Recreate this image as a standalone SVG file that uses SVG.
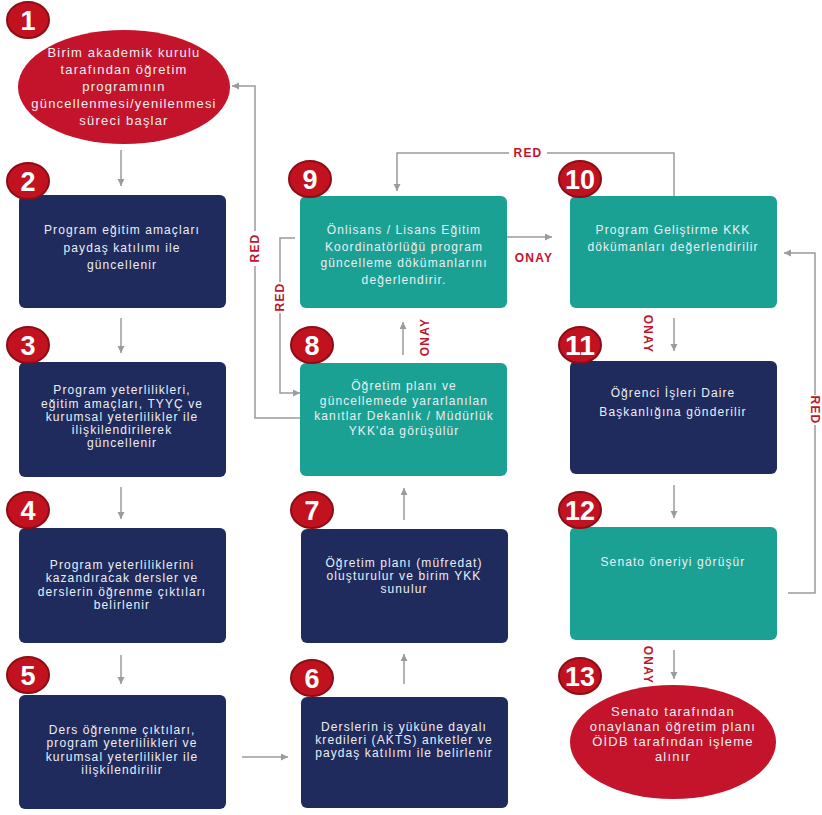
<svg xmlns="http://www.w3.org/2000/svg" width="822" height="815" viewBox="0 0 822 815">
<style>
.bg{fill:#ffffff}
.red{fill:#c3142b}
.navy{fill:#1f2b5c}
.teal{fill:#1aa193}
.t{font-family:"Liberation Sans","DejaVu Sans",sans-serif;font-size:12px;letter-spacing:1.1px;fill:#eceef4;text-anchor:middle}
.t1{font-size:13px;letter-spacing:1.2px}
.badge{fill:#c3121f;stroke:#8c0d15;stroke-width:2}
.bn{font-family:"Liberation Sans","DejaVu Sans",sans-serif;font-size:27px;font-weight:bold;fill:#ffffff;text-anchor:middle}
.conn{fill:none;stroke:#9b9b9b;stroke-width:1.5}
.lbl{font-family:"Liberation Sans","DejaVu Sans",sans-serif;font-size:12px;font-weight:bold;letter-spacing:1.2px;fill:#c3142b;text-anchor:middle}
</style>
<defs>
<marker id="ah" markerUnits="userSpaceOnUse" markerWidth="8" markerHeight="8" refX="7" refY="3.5" orient="auto">
<path d="M0,0 L7,3.5 L0,7 z" fill="#9b9b9b"/>
</marker>
</defs>
<rect class="bg" x="0" y="0" width="822" height="815"/>

<g id="connectors">
<path class="conn" d="M121,150 V186" marker-end="url(#ah)"/>
<path class="conn" d="M121,318 V353" marker-end="url(#ah)"/>
<path class="conn" d="M121,487 V519" marker-end="url(#ah)"/>
<path class="conn" d="M121,655 V684" marker-end="url(#ah)"/>
<path class="conn" d="M242,757 H288" marker-end="url(#ah)"/>
<path class="conn" d="M404,684 V654" marker-end="url(#ah)"/>
<path class="conn" d="M404,520 V488" marker-end="url(#ah)"/>
<path class="conn" d="M403,355 V322" marker-end="url(#ah)"/>
<path class="conn" d="M507,237 H552" marker-end="url(#ah)"/>
<path class="conn" d="M674,196 V153 H547"/>
<path class="conn" d="M509,153 H397 V191" marker-end="url(#ah)"/>
<path class="conn" d="M674,318 V351" marker-end="url(#ah)"/>
<path class="conn" d="M674,485 V518" marker-end="url(#ah)"/>
<path class="conn" d="M674,650 V679" marker-end="url(#ah)"/>
<path class="conn" d="M788,593 H815 V425"/>
<path class="conn" d="M815,395 V253 H784" marker-end="url(#ah)"/>
<path class="conn" d="M300,418 H255 V266"/>
<path class="conn" d="M255,231 V86 H232" marker-end="url(#ah)"/>
<path class="conn" d="M295,238 H280 V282"/>
<path class="conn" d="M280,313 V393 H300" marker-end="url(#ah)"/>
<text class="lbl" x="528" y="157">RED</text>
<text class="lbl" x="534" y="262">ONAY</text>
<text class="lbl" transform="translate(259,248) rotate(-90)">RED</text>
<text class="lbl" transform="translate(284,297) rotate(-90)">RED</text>
<text class="lbl" transform="translate(429,337) rotate(-90)">ONAY</text>
<text class="lbl" transform="translate(644,334) rotate(90)">ONAY</text>
<text class="lbl" transform="translate(644,665) rotate(90)">ONAY</text>
<text class="lbl" transform="translate(811,410) rotate(90)">RED</text>
</g>

<g id="node1">
<ellipse class="red" cx="124" cy="87" rx="106" ry="57"/>
<text class="t t1" x="124" y="57">Birim akademik kurulu</text>
<text class="t t1" x="124" y="74">tarafından öğretim</text>
<text class="t t1" x="124" y="91">programının</text>
<text class="t t1" x="124" y="108">güncellenmesi/yenilenmesi</text>
<text class="t t1" x="124" y="125">süreci başlar</text>
<ellipse class="badge" cx="28" cy="20" rx="21" ry="18"/>
<text class="bn" x="28" y="30">1</text>
</g>

<g id="node2">
<rect class="navy" x="19" y="195" width="207" height="113" rx="6"/>
<text class="t" x="122" y="234">Program eğitim amaçları</text>
<text class="t" x="122" y="252">paydaş katılımı ile</text>
<text class="t" x="122" y="269">güncellenir</text>
<ellipse class="badge" cx="28" cy="181" rx="21" ry="18"/>
<text class="bn" x="28" y="191">2</text>
</g>

<g id="node3">
<rect class="navy" x="19" y="362" width="207" height="115" rx="6"/>
<text class="t" x="122" y="394">Program yeterlilikleri,</text>
<text class="t" x="122" y="408">eğitim amaçları, TYYÇ ve</text>
<text class="t" x="122" y="421">kurumsal yeterlilikler ile</text>
<text class="t" x="122" y="434">ilişkilendirilerek</text>
<text class="t" x="122" y="447">güncellenir</text>
<ellipse class="badge" cx="28" cy="345" rx="21" ry="18"/>
<text class="bn" x="28" y="355">3</text>
</g>

<g id="node4">
<rect class="navy" x="19" y="528" width="207" height="115" rx="6"/>
<text class="t" x="122" y="569">Program yeterliliklerini</text>
<text class="t" x="122" y="582">kazandıracak dersler ve</text>
<text class="t" x="122" y="596">derslerin öğrenme çıktıları</text>
<text class="t" x="122" y="609">belirlenir</text>
<ellipse class="badge" cx="28" cy="510" rx="21" ry="18"/>
<text class="bn" x="28" y="520">4</text>
</g>

<g id="node5">
<rect class="navy" x="19" y="695" width="207" height="114" rx="6"/>
<text class="t" x="122" y="734">Ders öğrenme çıktıları,</text>
<text class="t" x="122" y="747">program yeterlilikleri ve</text>
<text class="t" x="122" y="761">kurumsal yeterlilikler ile</text>
<text class="t" x="122" y="774">ilişkilendirilir</text>
<ellipse class="badge" cx="28" cy="675" rx="21" ry="18"/>
<text class="bn" x="28" y="685">5</text>
</g>

<g id="node6">
<rect class="navy" x="301" y="697" width="207" height="111" rx="6"/>
<text class="t" x="404" y="731">Derslerin iş yüküne dayalı</text>
<text class="t" x="404" y="744">kredileri (AKTS) anketler ve</text>
<text class="t" x="404" y="757">paydaş katılımı ile belirlenir</text>
<ellipse class="badge" cx="312" cy="678" rx="21" ry="18"/>
<text class="bn" x="312" y="688">6</text>
</g>

<g id="node7">
<rect class="navy" x="301" y="529" width="207" height="114" rx="6"/>
<text class="t" x="404" y="567">Öğretim planı (müfredat)</text>
<text class="t" x="404" y="580">oluşturulur ve birim YKK</text>
<text class="t" x="404" y="593">sunulur</text>
<ellipse class="badge" cx="312" cy="510" rx="21" ry="18"/>
<text class="bn" x="312" y="520">7</text>
</g>

<g id="node8">
<rect class="teal" x="300" y="363" width="207" height="113" rx="6"/>
<text class="t" x="404" y="390">Öğretim planı ve</text>
<text class="t" x="404" y="405">güncellemede yararlanılan</text>
<text class="t" x="404" y="420">kanıtlar Dekanlık / Müdürlük</text>
<text class="t" x="404" y="435">YKK'da görüşülür</text>
<ellipse class="badge" cx="312" cy="345" rx="21" ry="18"/>
<text class="bn" x="312" y="355">8</text>
</g>

<g id="node9">
<rect class="teal" x="300" y="196" width="207" height="112" rx="6"/>
<text class="t" x="404" y="234">Önlisans / Lisans Eğitim</text>
<text class="t" x="404" y="251">Koordinatörlüğü program</text>
<text class="t" x="404" y="267">güncelleme dökümanlarını</text>
<text class="t" x="404" y="284">değerlendirir.</text>
<ellipse class="badge" cx="310" cy="179" rx="21" ry="18"/>
<text class="bn" x="310" y="189">9</text>
</g>

<g id="node10">
<rect class="teal" x="570" y="196" width="207" height="112" rx="6"/>
<text class="t" x="673" y="234">Program Geliştirme KKK</text>
<text class="t" x="673" y="251">dökümanları değerlendirilir</text>
<ellipse class="badge" cx="580" cy="179" rx="21" ry="18"/>
<text class="bn" x="580" y="189" textLength="30" lengthAdjust="spacingAndGlyphs">10</text>
</g>

<g id="node11">
<rect class="navy" x="570" y="361" width="207" height="113" rx="6"/>
<text class="t" x="673" y="397">Öğrenci İşleri Daire</text>
<text class="t" x="673" y="416">Başkanlığına gönderilir</text>
<ellipse class="badge" cx="580" cy="345" rx="21" ry="18"/>
<text class="bn" x="580" y="355" textLength="30" lengthAdjust="spacingAndGlyphs">11</text>
</g>

<g id="node12">
<rect class="teal" x="570" y="527" width="207" height="113" rx="6"/>
<text class="t" x="673" y="566">Senato öneriyi görüşür</text>
<ellipse class="badge" cx="580" cy="510" rx="21" ry="18"/>
<text class="bn" x="580" y="520" textLength="30" lengthAdjust="spacingAndGlyphs">12</text>
</g>

<g id="node13">
<ellipse class="red" cx="673" cy="742" rx="103" ry="57"/>
<text class="t t1" x="673" y="716">Senato tarafından</text>
<text class="t t1" x="673" y="731">onaylanan öğretim planı</text>
<text class="t t1" x="673" y="746">ÖİDB tarafından işleme</text>
<text class="t t1" x="673" y="761">alınır</text>
<ellipse class="badge" cx="580" cy="676" rx="21" ry="18"/>
<text class="bn" x="580" y="686" textLength="30" lengthAdjust="spacingAndGlyphs">13</text>
</g>
</svg>
